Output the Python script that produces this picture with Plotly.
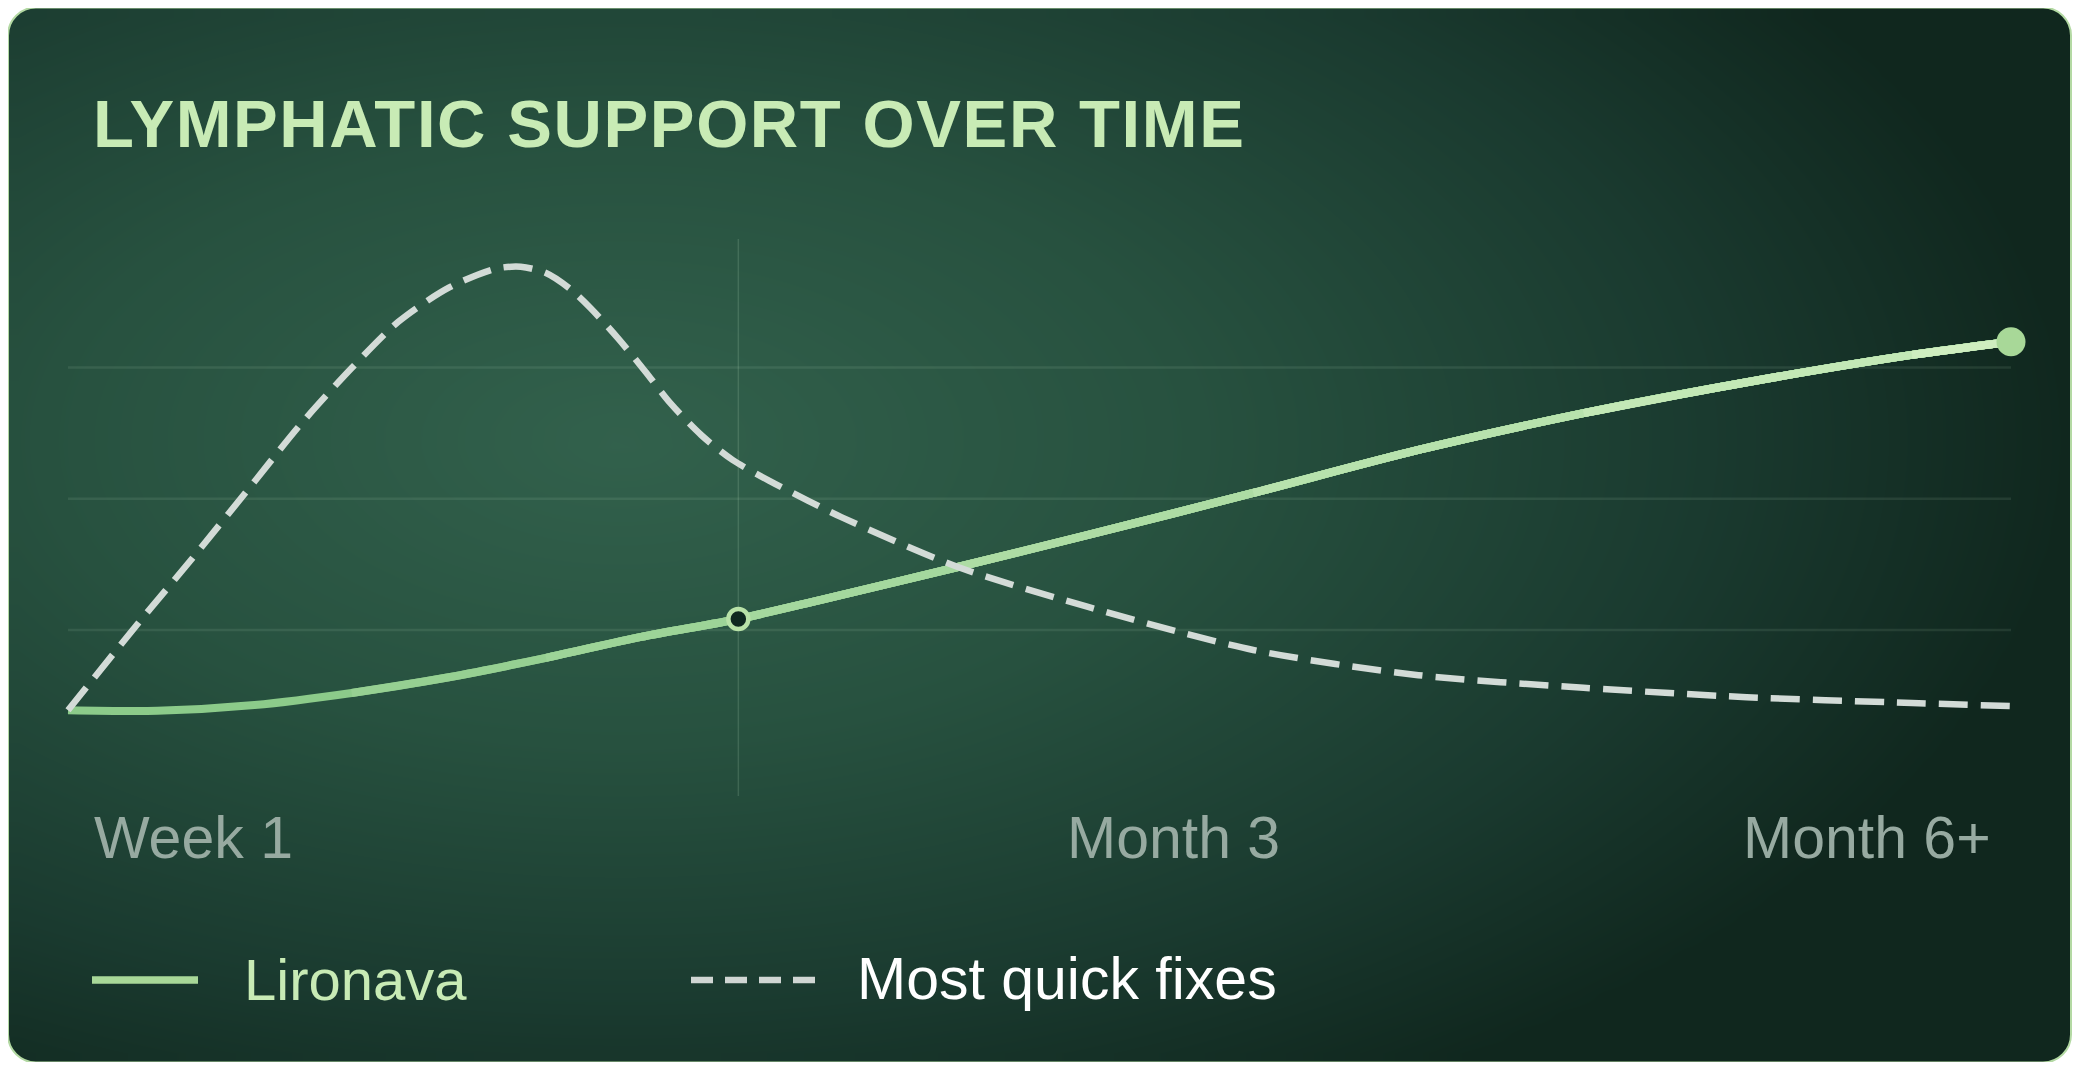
import numpy as np
import plotly.graph_objects as go

# timeline position (0 = week 1, 100 = month 6+) and support level (0-100)
lironava_x = [0, 4.6, 9.6, 14.6, 19.6, 24.6, 29.5, 34.5, 38.7, 45.8, 52.5, 61.0, 69.5, 78.0, 86.4, 94.9, 100]
lironava_y = [9.7, 9.6, 10.7, 13.0, 16.0, 19.7, 23.7, 27.1, 30.7, 37.0, 43.1, 51.1, 59.3, 66.3, 72.2, 77.4, 79.9]

quickfix_x = [0, 3.55, 6.5, 9.6, 12.0, 14.6, 17.0, 19.6, 22.0, 23.3, 24.6, 25.8, 26.9, 28.3, 29.7,
              31.0, 32.6, 34.2, 36.1, 38.1, 39.8, 45.8, 52.5, 61.0, 69.5, 78.0, 86.4, 94.9, 100]
quickfix_y = [9.7, 26.0, 39.1, 53.3, 64.3, 74.9, 83.7, 90.2, 93.8, 94.2, 93.0, 90.1, 86.3, 80.6, 74.3,
              68.2, 62.1, 57.4, 53.4, 49.6, 46.5, 37.0, 29.4, 21.2, 16.4, 14.0, 12.2, 11.1, 10.5]

highlight_idx = 7
grid_levels = [25, 50, 75]
time_labels = ["Week 1", "Month 3", "Month 6+"]
series_names = ["Lironava", "Most quick fixes"]
title_text = "LYMPHATIC SUPPORT OVER TIME"

# page is 2080x1070, the body keeps its 8px margin around the figure
PAGE_M = 8
W, H = 2080 - 2 * PAGE_M, 1070 - 2 * PAGE_M
FONT = "Liberation Sans"

# page-pixel placement of the data area
PX0, PX100 = 68.0, 2011.0
PY0, PY_PER = 761.25, 5.25
xr = [-2, 102]
yr = [-9, 103]
px_per_x = (PX100 - PX0) / 100.0
x_dom = [(PX0 + xr[0] * px_per_x - PAGE_M) / W, (PX0 + xr[1] * px_per_x - PAGE_M) / W]
y_dom = [1 - (PY0 - yr[0] * PY_PER - PAGE_M) / H, 1 - (PY0 - yr[1] * PY_PER - PAGE_M) / H]

# card (page pixels)
L, T, R, B, RAD = 8.0, 7.5, 2071.0, 1062.5, 28.0
K = 0.5523

# radial glow background
nx, ny = 104, 54
xe = np.linspace(L, R, nx + 1)
ye = np.linspace(T, B, ny + 1)
xc = (xe[:-1] + xe[1:]) / 2
yc = (ye[:-1] + ye[1:]) / 2
gx, gy = np.meshgrid(xc, yc)
dist = np.sqrt(((gx - 620) / 1450) ** 2 + ((gy - 440) / 760) ** 2)
dist = np.clip(dist, 0, 1)


def mix(c0, c1, t):
    a = [int(c0[i:i + 2], 16) for i in (1, 3, 5)]
    b = [int(c1[i:i + 2], 16) for i in (1, 3, 5)]
    return "rgb(%d,%d,%d)" % tuple(round(a[i] + (b[i] - a[i]) * t) for i in range(3))


fig = go.Figure()

fig.add_trace(go.Heatmap(
    x=xe, y=ye, z=dist, zmin=0, zmax=1, zsmooth="best",
    colorscale=[[0, "#32614c"], [0.4, "#27513f"], [0.75, "#1a3a2f"], [1, "#10271e"]],
    showscale=False, hoverinfo="skip", xaxis="x", yaxis="y",
))

# Lironava: full spline, then lighter copies of its tail so the colour brightens to the right
LIR_LEFT, LIR_RIGHT = "#8ccb8a", "#d3f0c3"
for start in [0, 3, 5, 7, 9, 11, 13, 15]:
    fig.add_trace(go.Scatter(
        x=lironava_x[start:], y=lironava_y[start:], mode="lines", name=series_names[0],
        line=dict(color=mix(LIR_LEFT, LIR_RIGHT, lironava_x[start] / 100.0), width=8,
                  shape="spline", smoothing=0.8),
        xaxis="x2", yaxis="y2", hoverinfo="skip",
    ))

fig.add_trace(go.Scatter(
    x=quickfix_x, y=quickfix_y, mode="lines", name=series_names[1],
    line=dict(color="#d3dbd7", width=6.5, dash="29px,13px", shape="spline", smoothing=0.8),
    xaxis="x2", yaxis="y2", hoverinfo="skip",
))
fig.add_trace(go.Scatter(
    x=[lironava_x[highlight_idx]], y=[lironava_y[highlight_idx]], mode="markers",
    marker=dict(size=20, color="#0f2820", line=dict(color="#b8e2a8", width=4.5)),
    xaxis="x2", yaxis="y2", cliponaxis=False, hoverinfo="skip",
))
fig.add_trace(go.Scatter(
    x=[lironava_x[-1]], y=[lironava_y[-1]], mode="markers",
    marker=dict(size=29, color="#a8d898", line=dict(width=0)),
    xaxis="x2", yaxis="y2", cliponaxis=False, hoverinfo="skip",
))

shapes = []
for g in grid_levels:
    shapes.append(dict(type="line", xref="x2", yref="y2", x0=0, x1=100, y0=g, y1=g,
                       line=dict(color="rgba(220,255,220,0.09)", width=2.5), layer="below"))
shapes.append(dict(type="line", xref="x2", yref="y2",
                   x0=lironava_x[highlight_idx], x1=lironava_x[highlight_idx], y0=-6.6, y1=99.5,
                   line=dict(color="rgba(220,255,220,0.14)", width=1.5), layer="below"))

# white corners outside the rounded card
o = 3
corners = [
    f"M {L-o},{T-o} L {L+RAD},{T-o} L {L+RAD},{T} C {L+RAD*(1-K)},{T} {L},{T+RAD*(1-K)} {L},{T+RAD} L {L-o},{T+RAD} Z",
    f"M {R+o},{T-o} L {R-RAD},{T-o} L {R-RAD},{T} C {R-RAD*(1-K)},{T} {R},{T+RAD*(1-K)} {R},{T+RAD} L {R+o},{T+RAD} Z",
    f"M {L-o},{B+o} L {L+RAD},{B+o} L {L+RAD},{B} C {L+RAD*(1-K)},{B} {L},{B-RAD*(1-K)} {L},{B-RAD} L {L-o},{B-RAD} Z",
    f"M {R+o},{B+o} L {R-RAD},{B+o} L {R-RAD},{B} C {R-RAD*(1-K)},{B} {R},{B-RAD*(1-K)} {R},{B-RAD} L {R+o},{B-RAD} Z",
]
for p in corners:
    shapes.append(dict(type="path", xref="x", yref="y", path=p, fillcolor="white",
                       line=dict(width=0), layer="above"))
border = (f"M {L+RAD},{T} L {R-RAD},{T} C {R-RAD*(1-K)},{T} {R},{T+RAD*(1-K)} {R},{T+RAD} "
          f"L {R},{B-RAD} C {R},{B-RAD*(1-K)} {R-RAD*(1-K)},{B} {R-RAD},{B} "
          f"L {L+RAD},{B} C {L+RAD*(1-K)},{B} {L},{B-RAD*(1-K)} {L},{B-RAD} "
          f"L {L},{T+RAD} C {L},{T+RAD*(1-K)} {L+RAD*(1-K)},{T} {L+RAD},{T} Z")
shapes.append(dict(type="path", xref="x", yref="y", path=border,
                   line=dict(color="#b3d9a3", width=2), layer="above"))

# legend samples
shapes.append(dict(type="line", xref="x", yref="y", x0=92, x1=198, y0=980, y1=980,
                   line=dict(color="#a8d898", width=7.5), layer="above"))
shapes.append(dict(type="line", xref="x", yref="y", x0=691, x1=815, y0=980, y1=980,
                   line=dict(color="#d0d6d3", width=6.5, dash="22px,12px"), layer="above"))

annotations = [
    dict(text='<span style="letter-spacing:1.6px">' + title_text + "</span>",
         x=91, y=123, xanchor="left", yanchor="middle",
         font=dict(family=FONT, size=67, color="#c8ebb5", weight="bold")),
    dict(text=time_labels[0], x=92, y=838, xanchor="left", yanchor="middle",
         font=dict(family=FONT, size=59, color="#97aaa1")),
    dict(text=time_labels[1], x=1065, y=838, xanchor="left", yanchor="middle",
         font=dict(family=FONT, size=59, color="#97aaa1")),
    dict(text=time_labels[2], x=1993, y=838, xanchor="right", yanchor="middle",
         font=dict(family=FONT, size=59, color="#97aaa1")),
    dict(text=series_names[0], x=242, y=979, xanchor="left", yanchor="middle",
         font=dict(family=FONT, size=58, color="#c8ebb5")),
    dict(text=series_names[1], x=855, y=979, xanchor="left", yanchor="middle",
         font=dict(family=FONT, size=59, color="#ffffff")),
]
for a in annotations:
    a.update(xref="x", yref="y", showarrow=False)

fig.update_layout(
    width=W, height=H,
    margin=dict(l=0, r=0, t=0, b=0),
    paper_bgcolor="white",
    plot_bgcolor="rgba(0,0,0,0)",
    showlegend=False,
    xaxis=dict(domain=[0, 1], range=[PAGE_M, PAGE_M + W], visible=False, fixedrange=True),
    yaxis=dict(domain=[0, 1], range=[PAGE_M + H, PAGE_M], visible=False, fixedrange=True),
    xaxis2=dict(domain=x_dom, range=xr, visible=False, fixedrange=True, anchor="y2"),
    yaxis2=dict(domain=y_dom, range=yr, visible=False, fixedrange=True, anchor="x2"),
    shapes=shapes,
    annotations=annotations,
)

fig.write_html("out.html", config={"displayModeBar": False})
